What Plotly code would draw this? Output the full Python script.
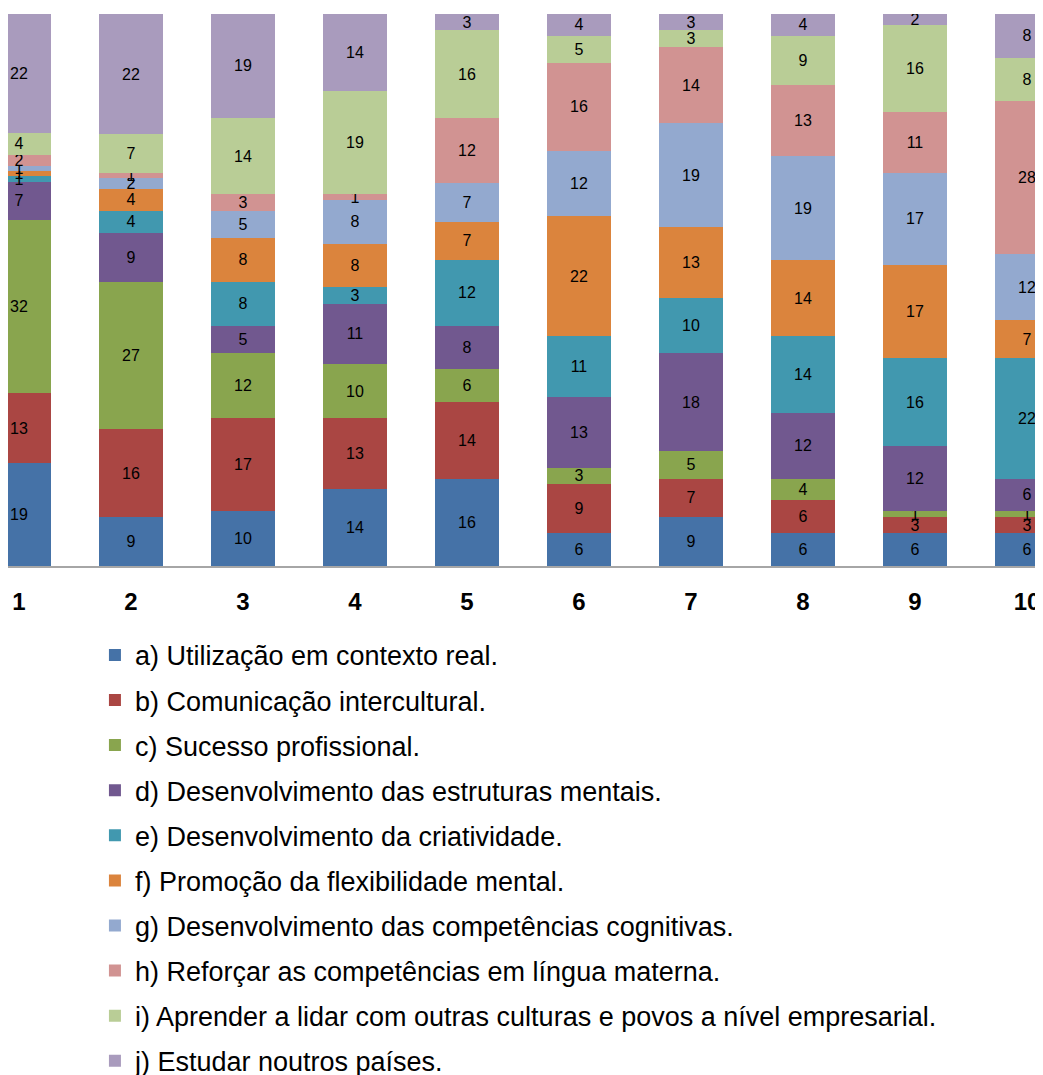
import plotly.graph_objects as go

categories = ["1", "2", "3", "4", "5", "6", "7", "8", "9", "10"]

series_names = [
    "a) Utilização em contexto real.",
    "b) Comunicação intercultural.",
    "c) Sucesso profissional.",
    "d) Desenvolvimento das estruturas mentais.",
    "e) Desenvolvimento da criatividade.",
    "f) Promoção da flexibilidade mental.",
    "g) Desenvolvimento das competências cognitivas.",
    "h) Reforçar as competências em língua materna.",
    "i) Aprender a lidar com outras culturas e povos a nível empresarial.",
    "j) Estudar noutros países.",
]

a_vals = [19, 9, 10, 14, 16, 6, 9, 6, 6, 6]
b_vals = [13, 16, 17, 13, 14, 9, 7, 6, 3, 3]
c_vals = [32, 27, 12, 10, 6, 3, 5, 4, 1, 1]
d_vals = [7, 9, 5, 11, 8, 13, 18, 12, 12, 6]
e_vals = [1, 4, 8, 3, 12, 11, 10, 14, 16, 22]
f_vals = [1, 4, 8, 8, 7, 22, 13, 14, 17, 7]
g_vals = [1, 2, 5, 8, 7, 12, 19, 19, 17, 12]
h_vals = [2, 1, 3, 1, 12, 16, 14, 13, 11, 28]
i_vals = [4, 7, 14, 19, 16, 5, 3, 9, 16, 8]
j_vals = [22, 22, 19, 14, 3, 4, 3, 4, 2, 8]

series_values = [a_vals, b_vals, c_vals, d_vals, e_vals, f_vals, g_vals, h_vals, i_vals, j_vals]

colors = ["#4572A7", "#AA4643", "#89A54E", "#71588F", "#4198AF",
          "#DB843D", "#93A9CF", "#D19392", "#B9CD96", "#A99BBD"]

FONT = "Liberation Sans, Arial, sans-serif"

fig = go.Figure()
for idx, (name, vals, col) in enumerate(zip(series_names, series_values, colors)):
    fig.add_trace(go.Bar(
        x=categories, y=vals, name=name,
        marker=dict(color=col, line=dict(width=0)),
        text=[str(v) for v in vals],
        textposition="inside",
        insidetextanchor="middle",
        textangle=0,
        textfont=dict(size=16, color="#000000", family=FONT),
        width=0.57,
        legendgroup=str(idx),
        hoverinfo="skip",
    ))

fig.update_layout(
    width=1035, height=1067,
    barmode="stack", barnorm="percent",
    paper_bgcolor="white", plot_bgcolor="white",
    margin=dict(l=0, r=0, t=6, b=509, autoexpand=False),
    uniformtext=dict(minsize=16, mode="show"),
    font=dict(family=FONT, color="#000000"),
    showlegend=True,
    legend=dict(
        orientation="v",
        x=0.084, xanchor="left",
        y=-0.1175, yanchor="top",
        traceorder="grouped",
        tracegroupgap=7,
        font=dict(size=27, family=FONT, color="#000000"),
        bgcolor="rgba(0,0,0,0)",
        itemclick=False,
    ),
    xaxis=dict(
        type="category",
        range=[-0.098, 9.143],
        showline=True, linecolor="#A6A6A6", linewidth=2,
        ticks="", showgrid=False, zeroline=False,
        tickfont=dict(size=24, family=FONT, color="#000000"),
        ticklabelstandoff=13,
    ),
    yaxis=dict(
        range=[0, 100], visible=False, showgrid=False, zeroline=False,
    ),
)

fig.update_xaxes(tickprefix="<b>", ticksuffix="</b>")

fig.write_html("out.html")
